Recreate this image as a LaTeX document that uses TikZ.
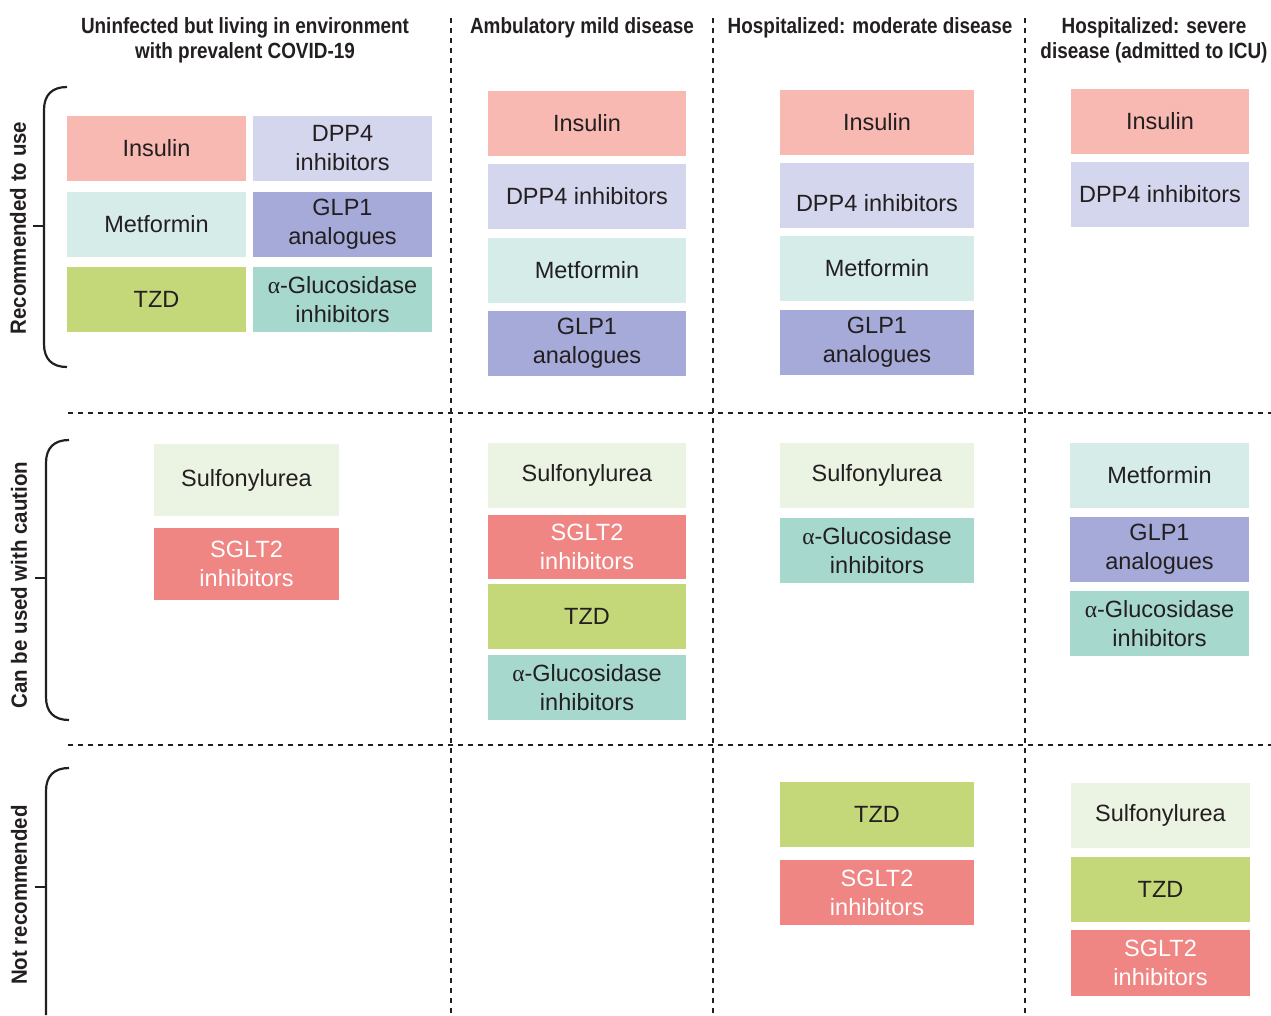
\documentclass[tikz,border=0pt]{standalone}
\usepackage{fontspec}
\setmainfont{Liberation Sans}
\newfontfamily\hdrfont{Liberation Sans}[FakeStretch=0.86]
\newfontfamily\lblfont{Liberation Sans}[FakeStretch=0.93]
\newfontfamily\grkfont{Liberation Serif}
\definecolor{cIns}{HTML}{F8B9B2}
\definecolor{cDpp}{HTML}{D4D6EE}
\definecolor{cMet}{HTML}{D5ECE9}
\definecolor{cGlp}{HTML}{A5AAD8}
\definecolor{cTzd}{HTML}{C5D879}
\definecolor{cGlu}{HTML}{A6D8CE}
\definecolor{cSul}{HTML}{EBF3E3}
\definecolor{cSgl}{HTML}{F08683}
\definecolor{txt}{HTML}{231F20}
\tikzset{
  drug/.style={inner sep=0pt, align=center, text=txt,
    font=\fontsize{23.5}{29}\selectfont},
  ins/.style={fill=cIns}, dpp/.style={fill=cDpp}, met/.style={fill=cMet},
  glp/.style={fill=cGlp}, tzd/.style={fill=cTzd}, glu/.style={fill=cGlu},
  sul/.style={fill=cSul}, sgl/.style={fill=cSgl, text=white},
  hdr/.style={align=center, text=txt, inner sep=0pt,
    font=\hdrfont\bfseries\fontsize{22}{25.5}\selectfont},
  rowlbl/.style={rotate=90, text=txt, inner sep=0pt,
    font=\lblfont\bfseries\fontsize{22}{25}\selectfont},
  sep/.style={draw=txt, line width=2.5pt, dash pattern=on 5pt off 5pt},
  brace/.style={draw=txt, line width=2.2pt}
}
\newcommand\dbox[7]{%
  \node[drug,#6,minimum width={(#4-#2)*1pt},minimum height={(#5-#3)*1pt}]
    (#1) at ({(#2+#4)/2},{(#3+#5)/2}) {#7};}
\newcommand\galpha{{\grkfont α}-Glucosidase\\inhibitors}
\begin{document}
\begin{tikzpicture}[x=1pt,y=-1pt]
\useasboundingbox (0,0) rectangle (1271,1015);
% headers
\node[hdr] (h1) at (245,40.5) {Uninfected but living in environment\\with prevalent COVID-19};
\node[hdr] (h2) at (582,27.5) {Ambulatory mild disease};
\node[hdr] (h3) at (870,27.5) {Hospitalized: moderate disease};
\node[hdr] (h4) at (1154,40.5) {Hospitalized: severe\\disease (admitted to ICU)};
% separators
\coordinate (v1t) at (451,18); \coordinate (v1b) at (451,1015);
\coordinate (v2t) at (713,18); \coordinate (v2b) at (713,1015);
\coordinate (v3t) at (1025,18); \coordinate (v3b) at (1025,1015);
\coordinate (r1l) at (68,413); \coordinate (r1r) at (1271,413);
\coordinate (r2l) at (68,745); \coordinate (r2r) at (1271,745);
\draw[sep] (v1t) -- (v1b);
\draw[sep] (v2t) -- (v2b);
\draw[sep] (v3t) -- (v3b);
\draw[sep] (r1l) -- (r1r);
\draw[sep] (r2l) -- (r2r);
% braces
\draw[brace] (67,87) .. controls (52,87) and (44,95) .. (44,110) -- (44,344) .. controls (44,359) and (52,367) .. (67,367);
\draw[brace] (33,226) -- (44,226);
\draw[brace] (69,440) .. controls (54,440) and (46,448) .. (46,463) -- (46,697) .. controls (46,712) and (54,720) .. (69,720);
\draw[brace] (35,578) -- (46,578);
\draw[brace] (69,768) .. controls (54,768) and (46,776) .. (46,791) -- (46,1015);
\draw[brace] (35,887) -- (46,887);
\node[rowlbl] (l1) at (18,228) {Recommended to use};
\node[rowlbl] (l2) at (19,585) {Can be used with caution};
\node[rowlbl] (l3) at (19,895) {Not recommended};
% column 1
\dbox{a1}{67}{116}{246}{181}{ins}{Insulin}
\dbox{a2}{253}{116}{432}{181}{dpp}{DPP4\\inhibitors}
\dbox{a3}{67}{192}{246}{257}{met}{Metformin}
\dbox{a4}{253}{192}{432}{257}{glp}{GLP1\\analogues}
\dbox{a5}{67}{267}{246}{332}{tzd}{TZD}
\dbox{a6}{253}{267}{432}{332}{glu}{\galpha}
\dbox{a7}{154}{444}{339}{516}{sul}{Sulfonylurea}
\dbox{a8}{154}{528}{339}{600}{sgl}{SGLT2\\inhibitors}
% column 2
\dbox{b1}{488}{91}{686}{156}{ins}{Insulin}
\dbox{b2}{488}{164}{686}{229}{dpp}{DPP4 inhibitors}
\dbox{b3}{488}{238}{686}{303}{met}{Metformin}
\dbox{b4}{488}{311}{686}{376}{glp}{GLP1\\analogues}
\dbox{b5}{488}{443}{686}{508}{sul}{Sulfonylurea}
\dbox{b6}{488}{515}{686}{579}{sgl}{SGLT2\\inhibitors}
\dbox{b7}{488}{584}{686}{649}{tzd}{TZD}
\dbox{b8}{488}{655}{686}{720}{glu}{\galpha}
% column 3
\dbox{c1}{780}{90}{974}{155}{ins}{Insulin}
\dbox{c2}{780}{163}{974}{228}{dpp}{\raisebox{-16pt}[0pt][0pt]{DPP4 inhibitors}}
\dbox{c3}{780}{236}{974}{301}{met}{Metformin}
\dbox{c4}{780}{310}{974}{375}{glp}{GLP1\\analogues}
\dbox{c5}{780}{443}{974}{508}{sul}{Sulfonylurea}
\dbox{c6}{780}{518}{974}{583}{glu}{\galpha}
\dbox{c7}{780}{782}{974}{847}{tzd}{TZD}
\dbox{c8}{780}{860}{974}{925}{sgl}{SGLT2\\inhibitors}
% column 4
\dbox{d1}{1071}{89}{1249}{154}{ins}{Insulin}
\dbox{d2}{1071}{162}{1249}{227}{dpp}{DPP4 inhibitors}
\dbox{d3}{1070}{443}{1249}{508}{met}{Metformin}
\dbox{d4}{1070}{517}{1249}{582}{glp}{GLP1\\analogues}
\dbox{d5}{1070}{591}{1249}{656}{glu}{\galpha}
\dbox{d6}{1071}{783}{1250}{848}{sul}{Sulfonylurea}
\dbox{d7}{1071}{857}{1250}{922}{tzd}{TZD}
\dbox{d8}{1071}{930}{1250}{996}{sgl}{SGLT2\\inhibitors}
\end{tikzpicture}
\end{document}
